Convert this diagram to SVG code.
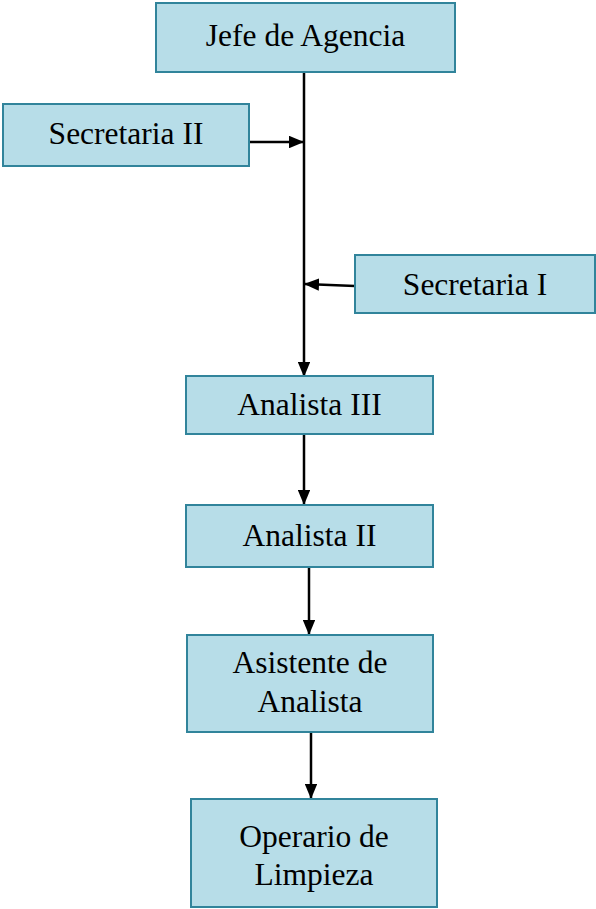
<svg xmlns="http://www.w3.org/2000/svg" width="596" height="909" viewBox="0 0 596 909">
<style>
.box{fill:#b7dde8;stroke:#31849b;stroke-width:2}
.t{font-family:"Liberation Serif","Times New Roman",serif;font-size:31.5px;fill:#000;text-anchor:middle}
.c{stroke:#000;stroke-width:2.5;fill:none;marker-end:url(#ah)}
</style>
<defs>
<marker id="ah" markerWidth="6" markerHeight="5" refX="5.6" refY="2.5" orient="auto" markerUnits="strokeWidth">
<path d="M0,0 L6,2.5 L0,5 Z" fill="#000"/>
</marker>
</defs>
<rect width="596" height="909" fill="#fff"/>
<g id="connectors">
<line class="c" x1="304" y1="72" x2="304" y2="376"/>
<line class="c" x1="249" y1="142" x2="303" y2="142"/>
<line class="c" x1="355" y1="286" x2="305" y2="284"/>
<line class="c" x1="304" y1="434" x2="304" y2="504"/>
<line class="c" x1="309" y1="567" x2="309" y2="634"/>
<line class="c" x1="311" y1="732" x2="311" y2="798"/>
</g>
<g id="jefe"><rect class="box" x="156" y="3" width="299" height="69"/><text class="t" x="305.5" y="46">Jefe de Agencia</text></g>
<g id="secretaria2"><rect class="box" x="3" y="104" width="246" height="62"/><text class="t" x="126" y="144">Secretaria II</text></g>
<g id="secretaria1"><rect class="box" x="355" y="255" width="240" height="58"/><text class="t" x="475" y="295">Secretaria I</text></g>
<g id="analista3"><rect class="box" x="186" y="376" width="247" height="58"/><text class="t" x="309.5" y="415">Analista III</text></g>
<g id="analista2"><rect class="box" x="186" y="505" width="247" height="62"/><text class="t" x="309.5" y="546">Analista II</text></g>
<g id="asistente"><rect class="box" x="187" y="635" width="246" height="97"/><text class="t" x="310" y="673">Asistente de</text><text class="t" x="310" y="712">Analista</text></g>
<g id="operario"><rect class="box" x="191" y="799" width="246" height="108"/><text class="t" x="314" y="847">Operario de</text><text class="t" x="314" y="885">Limpieza</text></g>
</svg>
